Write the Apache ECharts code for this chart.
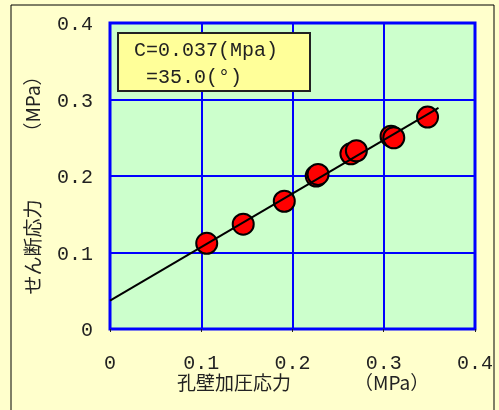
<!DOCTYPE html>
<html><head><meta charset="utf-8">
<script src="https://cdn.jsdelivr.net/npm/echarts@6/dist/echarts.min.js"></script>
<style>html,body{margin:0;padding:0;background:#FFFFCC;}#c{width:499px;height:410px;}</style>
</head><body><div id="c"></div>
<script>
const xValues = [0.106, 0.146, 0.191, 0.226, 0.228, 0.264, 0.270, 0.308, 0.311, 0.348];
const yValues = [0.112, 0.137, 0.167, 0.200, 0.202, 0.229, 0.233, 0.252, 0.250, 0.277];
const fitX = [0, 0.36];
const cohesion = 0.037;
const phiDeg = 35.0;
const xTicks = [0, 0.1, 0.2, 0.3, 0.4];
const yTicks = [0, 0.1, 0.2, 0.3, 0.4];
const annot1 = 'C=0.037(Mpa)';
const annot2 = ' =35.0(°)';
const xName = '孔壁加圧応力';
const yName = 'せん断応力';
const unit = '（MPa）';

const slope = Math.tan(phiDeg * Math.PI / 180);
const fitLine = fitX.map(x => [x, cohesion + slope * x]);
const pts = xValues.map((x, i) => [x, yValues[i]]);
const fmt = v => (Math.abs(v) < 1e-9 ? '0' : v.toFixed(1));
const mono = '"Liberation Mono", monospace';

const chart = echarts.init(document.getElementById('c'));
chart.setOption({
  backgroundColor: '#FFFFCC',
  animation: false,
  grid: {left: 110, top: 23, right: 24, bottom: 81, show: true, backgroundColor: '#CCFFCC', borderColor: '#0000FF', borderWidth: 3},
  xAxis: {type: 'value', min: 0, max: 0.4, interval: 0.1,
    axisLine: {show: false}, axisTick: {show: true, length: 3, lineStyle: {color: '#222'}},
    splitLine: {show: true, lineStyle: {color: '#0000FF', width: 2}},
    axisLabel: {formatter: fmt, margin: 25, fontFamily: mono, fontSize: 20, color: '#222'}},
  yAxis: {type: 'value', min: 0, max: 0.4, interval: 0.1,
    axisLine: {show: false}, axisTick: {show: false},
    splitLine: {show: true, lineStyle: {color: '#0000FF', width: 2}},
    axisLabel: {formatter: fmt, margin: 17, fontFamily: mono, fontSize: 20, color: '#222', verticalAlign: 'top', padding: [-8, 0, 0, 0]}},
  series: [
    {type: 'line', data: fitLine, symbol: 'none', lineStyle: {color: '#000', width: 2}, z: 3},
    {type: 'scatter', data: pts, symbol: 'circle', symbolSize: 21,
      itemStyle: {color: '#FF0000', borderColor: '#000', borderWidth: 2, opacity: 1}, z: 2}
  ],
  graphic: [
    {type: 'rect', shape: {x: 11, y: 5, width: 483, height: 420}, style: {fill: 'none', stroke: '#000', lineWidth: 1}, silent: true},
    {type: 'rect', shape: {x: 118, y: 33, width: 192, height: 58}, style: {fill: '#FFFF99', stroke: '#222', lineWidth: 2}, z: 10},
    {type: 'text', x: 134, y: 51, style: {text: annot1, font: '20px ' + mono, fill: '#222', textVerticalAlign: 'middle'}, z: 11},
    {type: 'text', x: 134, y: 78, style: {text: annot2, font: '20px ' + mono, fill: '#222', textVerticalAlign: 'middle'}, z: 11},
    {type: 'text', x: 177, y: 383, style: {text: xName, font: '19px "Noto Sans CJK JP"', fill: '#222', textVerticalAlign: 'middle'}, z: 11},
    {type: 'text', x: 354, y: 383, style: {text: unit, font: '19px "Noto Sans CJK JP"', fill: '#222', textVerticalAlign: 'middle'}, z: 11},
    {type: 'text', x: 33, y: 247, rotation: Math.PI / 2, style: {text: yName, font: '19px "Noto Sans CJK JP"', fill: '#222', textAlign: 'center', textVerticalAlign: 'middle'}, z: 11},
    {type: 'text', x: 33, y: 104, rotation: Math.PI / 2, style: {text: unit, font: '19px "Noto Sans CJK JP"', fill: '#222', textAlign: 'center', textVerticalAlign: 'middle'}, z: 11}
  ]
});
</script></body></html>
